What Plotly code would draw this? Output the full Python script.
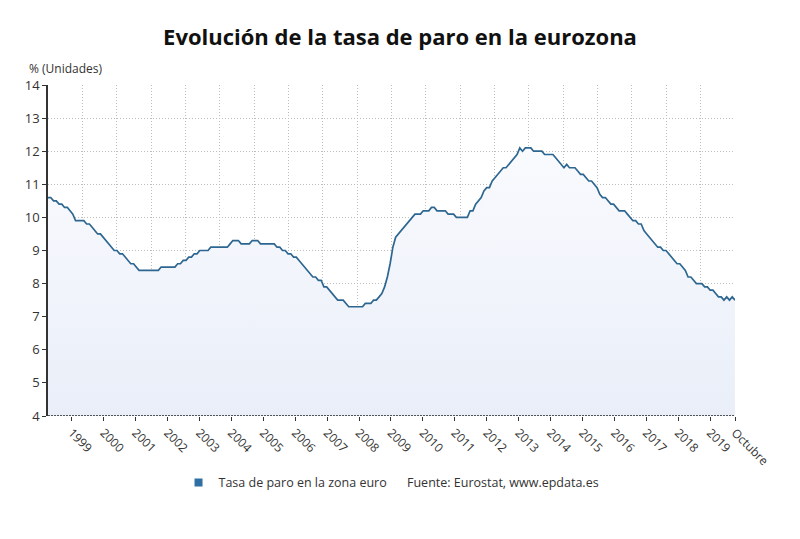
import numpy as np
import plotly.graph_objects as go

# Monthly euro-area unemployment rate (%), Jan 1999 - Oct 2019
rate_1999 = [10.6, 10.6, 10.5, 10.5, 10.4, 10.4, 10.3, 10.3, 10.2, 10.1, 9.9, 9.9]
rate_2000 = [9.9, 9.9, 9.8, 9.8, 9.7, 9.6, 9.5, 9.5, 9.4, 9.3, 9.2, 9.1]
rate_2001 = [9.0, 9.0, 8.9, 8.9, 8.8, 8.7, 8.6, 8.6, 8.5, 8.4, 8.4, 8.4]
rate_2002 = [8.4, 8.4, 8.4, 8.4, 8.4, 8.5, 8.5, 8.5, 8.5, 8.5, 8.5, 8.6]
rate_2003 = [8.6, 8.7, 8.7, 8.8, 8.8, 8.9, 8.9, 9.0, 9.0, 9.0, 9.0, 9.1]
rate_2004 = [9.1, 9.1, 9.1, 9.1, 9.1, 9.1, 9.2, 9.3, 9.3, 9.3, 9.2, 9.2]
rate_2005 = [9.2, 9.2, 9.3, 9.3, 9.3, 9.2, 9.2, 9.2, 9.2, 9.2, 9.2, 9.1]
rate_2006 = [9.1, 9.0, 9.0, 8.9, 8.9, 8.8, 8.8, 8.7, 8.6, 8.5, 8.4, 8.3]
rate_2007 = [8.2, 8.2, 8.1, 8.1, 7.9, 7.9, 7.8, 7.7, 7.6, 7.5, 7.5, 7.5]
rate_2008 = [7.4, 7.3, 7.3, 7.3, 7.3, 7.3, 7.3, 7.4, 7.4, 7.4, 7.5, 7.5]
rate_2009 = [7.6, 7.7, 7.9, 8.2, 8.6, 9.1, 9.4, 9.5, 9.6, 9.7, 9.8, 9.9]
rate_2010 = [10.0, 10.1, 10.1, 10.1, 10.2, 10.2, 10.2, 10.3, 10.3, 10.2, 10.2, 10.2]
rate_2011 = [10.2, 10.1, 10.1, 10.1, 10.0, 10.0, 10.0, 10.0, 10.0, 10.2, 10.2, 10.4]
rate_2012 = [10.5, 10.6, 10.8, 10.9, 10.9, 11.1, 11.2, 11.3, 11.4, 11.5, 11.5, 11.6]
rate_2013 = [11.7, 11.8, 11.9, 12.1, 12.0, 12.1, 12.1, 12.1, 12.0, 12.0, 12.0, 12.0]
rate_2014 = [11.9, 11.9, 11.9, 11.9, 11.8, 11.7, 11.6, 11.5, 11.6, 11.5, 11.5, 11.5]
rate_2015 = [11.4, 11.3, 11.3, 11.2, 11.1, 11.1, 11.0, 10.9, 10.7, 10.6, 10.6, 10.5]
rate_2016 = [10.4, 10.4, 10.3, 10.2, 10.2, 10.2, 10.1, 10.0, 9.9, 9.9, 9.8, 9.8]
rate_2017 = [9.6, 9.5, 9.4, 9.3, 9.2, 9.1, 9.1, 9.0, 9.0, 8.9, 8.8, 8.7]
rate_2018 = [8.6, 8.6, 8.5, 8.4, 8.2, 8.2, 8.1, 8.0, 8.0, 8.0, 7.9, 7.9]
rate_2019 = [7.8, 7.8, 7.7, 7.6, 7.6, 7.5, 7.6, 7.5, 7.6, 7.5]

x_labels = [str(y) for y in range(1999, 2020)] + ["Octubre"]
y_ticks = list(range(4, 15))

values = (rate_1999 + rate_2000 + rate_2001 + rate_2002 + rate_2003 + rate_2004
          + rate_2005 + rate_2006 + rate_2007 + rate_2008 + rate_2009 + rate_2010
          + rate_2011 + rate_2012 + rate_2013 + rate_2014 + rate_2015 + rate_2016
          + rate_2017 + rate_2018 + rate_2019)
months = list(range(len(values)))
last = len(values) - 1

# label positions (month index) as in the original chart's category axis
year_pos = list(np.linspace(8.6, 240.0, 21)) + [last]
grid_pos = list(np.linspace(0, last, 21)[1:-1])

LINE = "#2d6690"
TXT = "#333333"
GRID = "#bdbdbd"

fig = go.Figure()
fig.add_trace(go.Scatter(
    x=months, y=values, mode="lines",
    line=dict(color=LINE, width=1.7),
    fill="tozeroy",
    fillgradient=dict(type="vertical", start=4, stop=12.5,
                      colorscale=[[0, "rgb(233,238,248)"], [1, "rgb(250,251,254)"]]),
    showlegend=False, hoverinfo="x+y",
))
fig.add_trace(go.Scatter(
    x=[None], y=[None], mode="markers", name="Tasa de paro en la zona euro",
    marker=dict(symbol="square", size=8, color="#2f6fa3"),
    showlegend=True,
))

fig.update_layout(
    width=800, height=539,
    margin=dict(l=48, r=65, t=85, b=123),
    paper_bgcolor="white", plot_bgcolor="white",
    font=dict(family="Open Sans", size=13, color=TXT),
    title=dict(text="Evolución de la tasa de paro en la eurozona",
               x=0.5, xanchor="center", y=0.93, yanchor="middle",
               font=dict(family="Open Sans", size=22, color="#111111", weight=700)),
    xaxis=dict(
        range=[0, last], tickmode="array", tickvals=year_pos, ticktext=x_labels,
        tickangle=45, ticks="outside", ticklen=4, tickcolor=TXT,
        showgrid=False, zeroline=False, showline=False,
        tickfont=dict(size=12, color=TXT),
        minor=dict(tickmode="array", tickvals=grid_pos, showgrid=True,
                   gridcolor=GRID, griddash="1px,2px", gridwidth=1, ticks=""),
    ),
    yaxis=dict(
        range=[4, 14], tickmode="array", tickvals=y_ticks,
        ticks="outside", ticklen=4, tickcolor=TXT,
        showgrid=True, gridcolor=GRID, griddash="1px,2px", gridwidth=1,
        showline=True, linecolor="#333333", linewidth=1.5,
        zeroline=False, tickfont=dict(size=13, color=TXT),
    ),
    legend=dict(orientation="h", x=0.19, xanchor="left", y=-0.2024, yanchor="middle",
                font=dict(size=12.5, color=TXT), bgcolor="rgba(0,0,0,0)"),
    shapes=[dict(type="line", xref="paper", x0=0, x1=1, yref="y", y0=4, y1=4,
                 line=dict(color="#222222", width=1.5, dash="2px,1px"))],
    annotations=[
        dict(text="% (Unidades)", xref="paper", yref="paper", x=-0.03, y=1,
             xanchor="left", yanchor="bottom", yshift=6, showarrow=False,
             font=dict(size=12, color=TXT)),
        dict(text="Fuente: Eurostat, www.epdata.es", xref="paper", yref="paper",
             x=0.5197, y=-0.2024, xanchor="left", yanchor="middle", showarrow=False,
             font=dict(size=12.5, color=TXT)),
    ],
)

fig.write_html("out.html")
